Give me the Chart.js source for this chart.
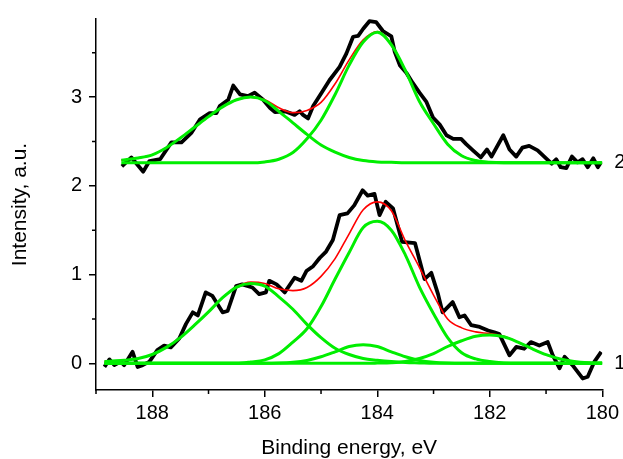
<!DOCTYPE html>
<html>
<head>
<meta charset="utf-8">
<script src="https://cdn.jsdelivr.net/npm/chart.js@4.4.1/dist/chart.umd.min.js"></script>
<style>
  body { margin: 0; background: #fff; }
  canvas { display: block; }
</style>
</head>
<body>
<canvas id="xps" width="623" height="459"></canvas>
<script>
// measured spectra (black), binding energy in eV
const upperEnergy = [188.54, 188.37, 188.16, 188.05, 187.86, 187.66, 187.48, 187.30, 187.15, 186.98,
  186.86, 186.80, 186.65, 186.56, 186.44, 186.30, 186.18, 186.03, 185.91, 185.82,
  185.64, 185.47, 185.38, 185.32, 185.23, 185.14, 184.99, 184.85, 184.67, 184.55,
  184.43, 184.34, 184.25, 184.14, 184.02, 183.90, 183.75, 183.69, 183.60, 183.48,
  183.37, 183.25, 183.13, 183.01, 182.89, 182.77, 182.65, 182.51, 182.42, 182.30,
  182.16, 182.05, 181.97, 181.76, 181.65, 181.53, 181.42, 181.30, 181.15, 181.00,
  180.90, 180.82, 180.74, 180.64, 180.54, 180.44, 180.35, 180.26, 180.16, 180.08, 180.02];
const upperIntensity = [2.22, 2.32, 2.16, 2.28, 2.30, 2.49, 2.49, 2.60, 2.75, 2.82,
  2.82, 2.90, 2.97, 3.13, 3.03, 3.01, 3.05, 2.97, 2.88, 2.83,
  2.84, 2.80, 2.84, 2.80, 2.76, 2.90, 3.05, 3.19, 3.34, 3.49,
  3.68, 3.69, 3.77, 3.855, 3.845, 3.745, 3.685, 3.51, 3.36, 3.27,
  3.16, 3.05, 2.95, 2.77, 2.69, 2.57, 2.53, 2.53, 2.47, 2.40,
  2.32, 2.41, 2.33, 2.57, 2.41, 2.33, 2.43, 2.45, 2.40, 2.31,
  2.25, 2.30, 2.21, 2.20, 2.33, 2.265, 2.30, 2.21, 2.31, 2.21, 2.27];

const lowerEnergy = [188.85, 188.76, 188.675, 188.56, 188.50, 188.35, 188.26, 188.17, 188.05, 187.91,
  187.79, 187.67, 187.52, 187.40, 187.28, 187.19, 187.05, 186.93, 186.75, 186.66,
  186.51, 186.40, 186.22, 186.10, 185.98, 185.92, 185.79, 185.645, 185.47, 185.35,
  185.26, 185.14, 185.02, 184.91, 184.79, 184.67, 184.53, 184.41, 184.26, 184.17,
  184.05, 183.96, 183.85, 183.72, 183.56, 183.33, 183.16, 183.04, 182.92, 182.84,
  182.66, 182.54, 182.45, 182.33, 182.18, 182.03, 181.92, 181.83, 181.65, 181.53,
  181.39, 181.27, 181.12, 180.97, 180.88, 180.76, 180.67, 180.53, 180.35, 180.26,
  180.14, 180.02];
const lowerIntensity = [-0.04, 0.045, -0.02, 0.02, -0.02, 0.13, -0.04, -0.02, 0.02, 0.15,
  0.20, 0.18, 0.28, 0.445, 0.575, 0.54, 0.80, 0.76, 0.575, 0.59,
  0.87, 0.89, 0.855, 0.78, 0.80, 0.93, 0.89, 0.80, 0.965, 0.93,
  1.04, 1.095, 1.19, 1.26, 1.39, 1.67, 1.69, 1.78, 1.95, 1.89,
  1.91, 1.67, 1.82, 1.745, 1.37, 1.355, 0.95, 1.02, 0.78, 0.575,
  0.69, 0.52, 0.54, 0.43, 0.41, 0.37, 0.35, 0.33, 0.09, 0.185,
  0.165, 0.24, 0.20, 0.24, 0.09, -0.055, 0.075, -0.02, -0.17, -0.15,
  0.02, 0.13];

// fitted components (green) and envelopes (red)
const upperGrid = [188.55, 188.25, 188, 187.75, 187.5, 187.25, 187, 186.75, 186.5, 186.25,
  186, 185.75, 185.5, 185.25, 185, 184.75, 184.5, 184.25, 184, 183.75,
  183.5, 183.25, 183, 182.75, 182.5, 182.25, 182, 181.75, 181.5, 181.25,
  181, 180.75, 180.5, 180.25, 180];
const upperPeakA = [2.29, 2.315, 2.35, 2.43, 2.54, 2.66, 2.78, 2.89, 2.97, 3.00,
  2.96, 2.84, 2.71, 2.58, 2.46, 2.38, 2.32, 2.285, 2.27, 2.265,
  2.26, 2.26, 2.26, 2.26, 2.26, 2.26, 2.26, 2.26, 2.26, 2.26,
  2.26, 2.26, 2.26, 2.26, 2.26];
const upperPeakB = [2.26, 2.26, 2.26, 2.26, 2.26, 2.26, 2.26, 2.26, 2.26, 2.26,
  2.27, 2.30, 2.375, 2.53, 2.74, 3.03, 3.36, 3.62, 3.73, 3.59,
  3.30, 2.95, 2.70, 2.47, 2.34, 2.285, 2.265, 2.26, 2.26, 2.26,
  2.26, 2.26, 2.26, 2.26, 2.26];
const upperFit = [2.29, 2.315, 2.35, 2.43, 2.54, 2.66, 2.78, 2.89, 2.97, 3.00,
  2.97, 2.88, 2.825, 2.85, 2.94, 3.15, 3.42, 3.645, 3.74, 3.595,
  3.30, 2.95, 2.70, 2.47, 2.34, 2.285, 2.265, 2.26, 2.26, 2.26,
  2.26, 2.26, 2.26, 2.26, 2.26];

const lowerGrid = [188.85, 188.75, 188.5, 188.25, 188, 187.75, 187.5, 187.25, 187, 186.75,
  186.5, 186.25, 186, 185.75, 185.5, 185.25, 185, 184.75, 184.5, 184.25,
  184, 183.75, 183.5, 183.25, 183, 182.75, 182.5, 182.25, 182, 181.75,
  181.5, 181.25, 181, 180.75, 180.5, 180.25, 180];
const lowerPeakC = [0.02, 0.025, 0.035, 0.055, 0.10, 0.18, 0.29, 0.43, 0.58, 0.74,
  0.86, 0.90, 0.87, 0.75, 0.61, 0.44, 0.29, 0.17, 0.10, 0.055,
  0.035, 0.02, 0.01, 0.005, 0, 0, 0, 0, 0, 0,
  0, 0, 0, 0, 0, 0, 0];
const lowerPeakD = [0, 0, 0, 0, 0, 0, 0, 0, 0, 0,
  0, 0.015, 0.04, 0.11, 0.24, 0.39, 0.64, 0.95, 1.25, 1.53,
  1.60, 1.50, 1.22, 0.86, 0.56, 0.29, 0.12, 0.05, 0.02, 0.005,
  0, 0, 0, 0, 0, 0, 0];
const lowerPeakE = [0, 0, 0, 0, 0, 0, 0, 0, 0, 0,
  0, 0, 0, 0.003, 0.012, 0.033, 0.074, 0.13, 0.19, 0.21,
  0.19, 0.13, 0.074, 0.033, 0.012, 0.003, 0, 0, 0, 0,
  0, 0, 0, 0, 0, 0, 0];
const lowerPeakF = [0, 0, 0, 0, 0, 0, 0, 0, 0, 0,
  0, 0, 0, 0, 0, 0, 0, 0, 0, 0,
  0.003, 0.008, 0.022, 0.055, 0.11, 0.19, 0.255, 0.305, 0.32, 0.30,
  0.24, 0.165, 0.098, 0.05, 0.022, 0.008, 0.003];
const lowerFit = [0.02, 0.025, 0.035, 0.055, 0.10, 0.18, 0.29, 0.43, 0.58, 0.74,
  0.86, 0.915, 0.90, 0.84, 0.82, 0.855, 0.98, 1.18, 1.46, 1.73,
  1.82, 1.72, 1.38, 1.08, 0.77, 0.50, 0.40, 0.355, 0.335, 0.305,
  0.24, 0.165, 0.098, 0.05, 0.022, 0.008, 0.003];

const xMajor = [188, 186, 184, 182, 180];
const xMinor = [189, 187, 185, 183, 181];
const yMajor = [0, 1, 2, 3];
const yMinor = [0.5, 1.5, 2.5, 3.5];
const curveNames = ['1', '2'];
const curveBaselines = [0, 2.26];

const GREEN = '#00ee00';
const FONT = 'Liberation Sans, Arial, Helvetica, sans-serif';

const pts = (xs, ys) => xs.map((x, i) => ({ x: x, y: ys[i] }));

const component = (xs, ys) => ({
  data: pts(xs, ys), borderColor: GREEN, borderWidth: 3,
  cubicInterpolationMode: 'monotone', order: 0
});
const envelope = (xs, ys) => ({
  data: pts(xs, ys), borderColor: '#ff0000', borderWidth: 1.6,
  cubicInterpolationMode: 'monotone', order: 1
});
const measured = (xs, ys) => ({
  data: pts(xs, ys), borderColor: '#000', borderWidth: 3.8,
  tension: 0, borderJoinStyle: 'round', order: 2
});

// minor ticks + curve numbers at the right edge
const extras = {
  id: 'extras',
  afterDraw(chart) {
    const { ctx, chartArea, scales } = chart;
    ctx.save();
    ctx.strokeStyle = '#000';
    ctx.lineWidth = 1.5;
    ctx.beginPath();
    xMinor.forEach(v => {
      const px = scales.x.getPixelForValue(v);
      ctx.moveTo(px, chartArea.bottom);
      ctx.lineTo(px, chartArea.bottom + 4);
    });
    yMinor.forEach(v => {
      const py = scales.y.getPixelForValue(v);
      ctx.moveTo(chartArea.left, py);
      ctx.lineTo(chartArea.left - 4, py);
    });
    ctx.stroke();

    ctx.fillStyle = '#000';
    ctx.font = '20px ' + FONT;
    ctx.textAlign = 'left';
    ctx.textBaseline = 'middle';
    curveNames.forEach((name, i) => {
      ctx.fillText(name, chartArea.right + 12, scales.y.getPixelForValue(curveBaselines[i]));
    });
    ctx.restore();
  }
};

const axisGrid = { display: true, drawOnChartArea: false, drawTicks: true, tickLength: 7, color: '#000', lineWidth: 1.5 };
const axisBorder = { display: true, color: '#000', width: 1.5 };

new Chart(document.getElementById('xps'), {
  type: 'line',
  data: {
    datasets: [
      component(upperGrid, upperPeakA),
      component(upperGrid, upperPeakB),
      component(lowerGrid, lowerPeakC),
      component(lowerGrid, lowerPeakD),
      component(lowerGrid, lowerPeakE),
      component(lowerGrid, lowerPeakF),
      envelope(upperGrid, upperFit),
      envelope(lowerGrid, lowerFit),
      measured(upperEnergy, upperIntensity),
      measured(lowerEnergy, lowerIntensity)
    ]
  },
  options: {
    responsive: false,
    animation: false,
    layout: { padding: { top: 15, right: 20, left: 0, bottom: 0 } },
    elements: { point: { radius: 0 } },
    plugins: { legend: { display: false }, tooltip: { enabled: false } },
    scales: {
      x: {
        type: 'linear', reverse: true, min: 180, max: 189,
        afterFit: s => { s.height = 69; },
        afterBuildTicks: s => { s.ticks = xMajor.map(v => ({ value: v })); },
        grid: axisGrid, border: axisBorder,
        ticks: { color: '#000', padding: 4, font: { family: FONT, size: 20 } },
        title: { display: true, text: 'Binding energy, eV', color: '#000',
                 padding: { top: 0, bottom: -2 }, font: { family: FONT, size: 21 } }
      },
      y: {
        min: -0.3, max: 3.88,
        afterFit: s => { s.width = 96; },
        afterBuildTicks: s => { s.ticks = yMajor.map(v => ({ value: v })); },
        grid: axisGrid, border: axisBorder,
        ticks: { color: '#000', padding: 7, font: { family: FONT, size: 20 } },
        title: { display: true, text: 'Intensity, a.u.', color: '#000',
                 padding: { top: 8, bottom: 0 }, font: { family: FONT, size: 21 } }
      }
    }
  },
  plugins: [extras]
});
</script>
</body>
</html>
